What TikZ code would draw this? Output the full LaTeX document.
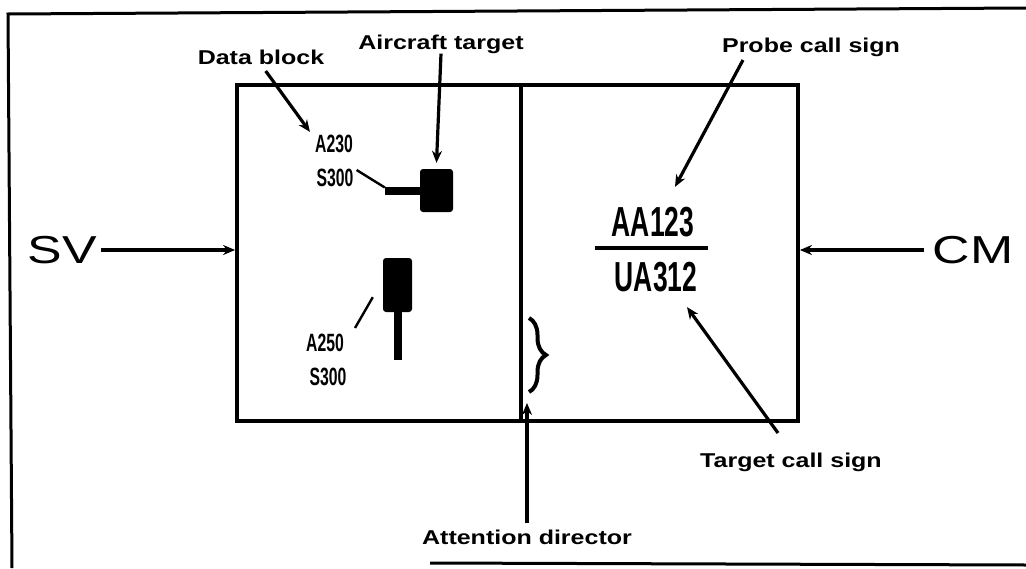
\documentclass[tikz,border=0pt]{standalone}
\usepackage{fontspec}
\setmainfont{Liberation Sans}
\usepackage{graphicx}
\usetikzlibrary{arrows.meta,positioning,decorations.pathreplacing}

\newcommand{\widetxt}[1]{\scalebox{1.25}[1]{#1}}
\newcommand{\slimtxt}[1]{\scalebox{0.63}[1]{#1}}

\begin{document}
\begin{tikzpicture}[x=1pt,y=-1pt,
  lbl/.style={inner sep=0pt,font=\fontsize{20}{22}\selectfont\bfseries},
  big/.style={inner sep=0pt,font=\fontsize{39}{40}\selectfont},
  code/.style={inner sep=0pt,font=\fontsize{25}{26}\selectfont\bfseries},
  callsign/.style={inner sep=0pt,font=\fontsize{42}{44}\selectfont\bfseries},
  panel/.style={draw,line width=3.8pt,minimum width=561pt,minimum height=336pt,inner sep=0pt},
  blk/.style={fill=black,rounded corners=3pt,inner sep=0pt},
  arr/.style={-{Stealth[length=12pt,width=10pt]},line width=3.2pt},
  lead/.style={line width=2.4pt},
  stem/.style={line width=8pt},
  frame/.style={line width=3pt}
]
\useasboundingbox (0,0) rectangle (1026,568);
\draw[frame] (12,568) -- (8,14) -- (1026,8);
\draw[frame] (430,563) -- (1026,565);

\node[panel] (disp) at (517.5,253) {};
\draw[line width=3.8pt] (disp.north -| 521,0) -- (disp.south -| 521,0);

\node[big] (sv) at (62,250) {\scalebox{1.33}[1]{SV}};
\node[big] (cm) at (973,250) {\scalebox{1.33}[1]{CM}};
\draw[arr,shorten <=4pt] (sv.east) -- (sv.east -| disp.west);
\draw[arr,shorten <=8pt] (cm.west) -- (cm.west -| disp.east);

\node[lbl] (datablk) at (261,57) {\widetxt{Data block}};
\node[lbl] (acft) at (441,44) {\widetxt{Aircraft target}};
\node[lbl] (probe) at (811,47) {\widetxt{Probe call sign}};
\node[lbl] (target) at (791,462) {\widetxt{Target call sign}};
\node[lbl] (attn) at (527,537) {\widetxt{Attention director}};

\node[code] (a230) at (334,144) {\slimtxt{A230}};
\node[code] (s300a) at (335,178) {\slimtxt{S300}};
\node[code] (a250) at (325,343) {\slimtxt{A250}};
\node[code] (s300b) at (328,377) {\slimtxt{S300}};

\node[blk,minimum width=33pt,minimum height=43pt] (tgtA) at (436.5,190.5) {};
\node[blk,minimum width=29pt,minimum height=54pt] (tgtB) at (397.5,285) {};
\draw[stem] (tgtA.west) -- ++(-35,0) coordinate (stemA);
\draw[stem] (tgtB.south) -- ++(0,48);
\draw[lead] ([shift={(3,-8)}]s300a.east) -- ([yshift=3pt]stemA);
\draw[lead] ([shift={(11,-6)}]a250.north east) -- ([shift={(-10,-15)}]tgtB.south west);

\node[callsign] (aa) at (653,222) {\slimtxt{AA123}};
\node[callsign] (ua) at (656,277) {\slimtxt{UA312}};
\draw[line width=4pt] (595,248) -- (708,248);

\draw[decorate,decoration={brace,amplitude=17pt},line width=4pt] (529,318) -- (529,392);

\draw[arr,shorten <=8pt] (datablk.south) -- ([shift={(-5,-3)}]a230.north west);
\draw[arr] (acft.south) -- ([yshift=6pt]tgtA.north);
\coordinate (probeFrom) at (743,60);
\draw[arr] (probeFrom) -- ([shift={(22,-20)}]aa.north);
\coordinate (targetFrom) at (778,433);
\draw[arr] (targetFrom) -- ([shift={(31,15)}]ua.south);
\coordinate (attnTip) at (527,403);
\draw[arr,shorten <=6pt] (attn.north) -- (attnTip);
\end{tikzpicture}
\end{document}
